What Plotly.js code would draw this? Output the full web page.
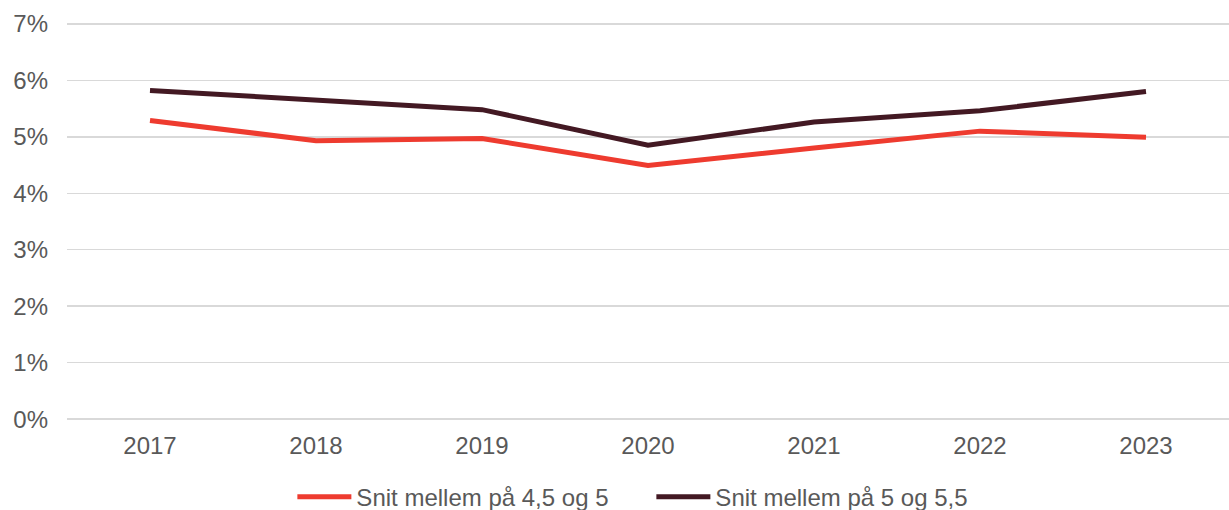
<!DOCTYPE html>
<html>
<head>
<meta charset="utf-8">
<script src="https://cdn.plot.ly/plotly-3.0.1.min.js"></script>
<style>html,body{margin:0;padding:0;background:#fff;}#chart{width:1229px;height:510px;}</style>
</head>
<body>
<div id="chart"></div>
<script>
const years = ['2017', '2018', '2019', '2020', '2021', '2022', '2023'];
const seriesA_name = 'Snit mellem på 4,5 og 5';
const seriesA = [5.29, 4.93, 4.97, 4.49, 4.80, 5.10, 4.99];
const seriesB_name = 'Snit mellem på 5 og 5,5';
const seriesB = [5.82, 5.64, 5.48, 4.85, 5.26, 5.46, 5.80];
const yTicks = [0, 1, 2, 3, 4, 5, 6, 7];
const yTickLabels = ['0%', '1%', '2%', '3%', '4%', '5%', '6%', '7%'];

const traces = [
  {x: years, y: seriesA, name: seriesA_name, type: 'scatter', mode: 'lines',
   line: {color: '#EE3B2F', width: 5}},
  {x: years, y: seriesB, name: seriesB_name, type: 'scatter', mode: 'lines',
   line: {color: '#431923', width: 5}}
];
const layout = {
  width: 1229, height: 510,
  margin: {l: 67, r: 0, t: 21, b: 88},
  paper_bgcolor: '#fff', plot_bgcolor: '#fff',
  font: {family: '"Liberation Sans", Arial, sans-serif', size: 24, color: '#595959'},
  showlegend: true,
  legend: {orientation: 'h', x: 0.530, xanchor: 'center', xref: 'container', y: 0.025, yanchor: 'middle', yref: 'container',
           font: {size: 24, color: '#595959'}, itemwidth: 54, entrywidth: 290},
  xaxis: {type: 'category', range: [-0.5, 6.5], showgrid: false, zeroline: false, showline: false,
          ticks: '', ticklabelstandoff: 7, fixedrange: true},
  yaxis: {range: [-0.05, 7.05], tickvals: yTicks, ticktext: yTickLabels, showgrid: true,
          gridcolor: '#D9D9D9', gridwidth: 1.5, zeroline: false, showline: false,
          ticks: '', ticklabelstandoff: 18, fixedrange: true}
};
Plotly.newPlot('chart', traces, layout, {displayModeBar: false, staticPlot: true});
</script>
</body>
</html>
